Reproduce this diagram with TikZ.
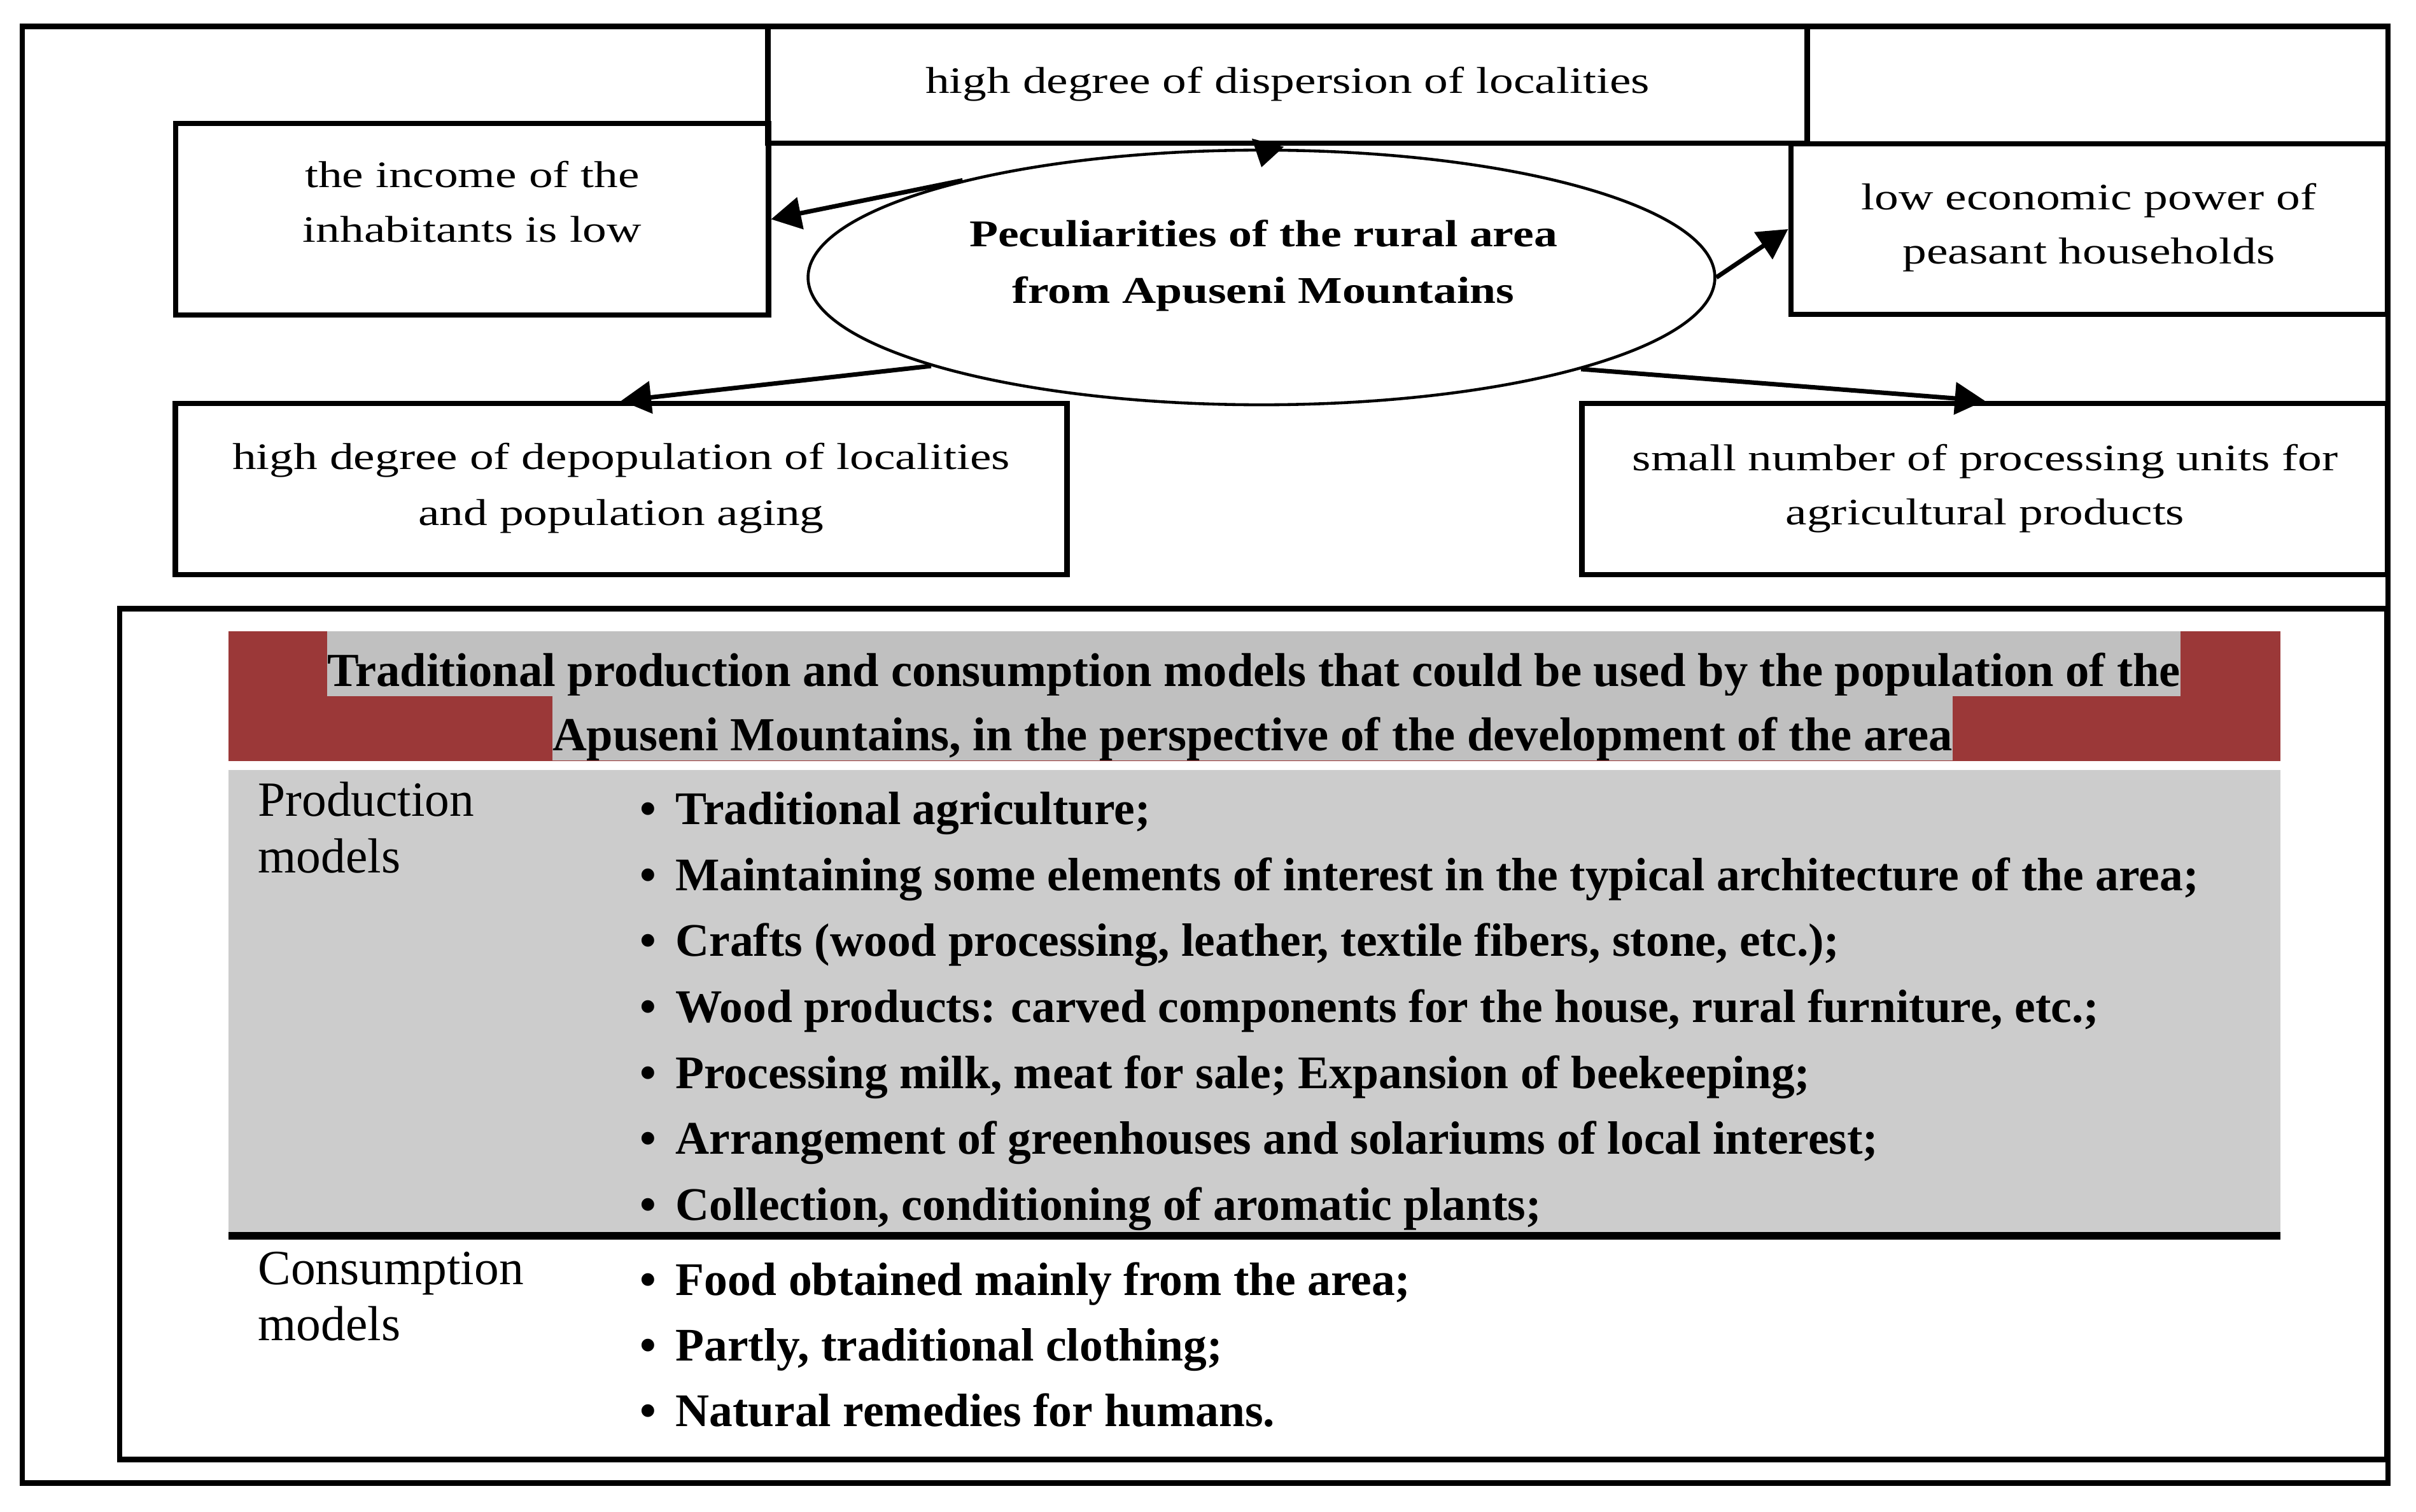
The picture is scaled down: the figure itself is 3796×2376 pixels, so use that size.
\documentclass[tikz,border=0pt]{standalone}
\usepackage{fontspec}
\setmainfont{Liberation Serif}
\newfontfamily\topfont{Liberation Serif}[FakeStretch=1.285]
\newfontfamily\ovalfont{Liberation Serif}[FakeStretch=1.24]
\usetikzlibrary{arrows.meta,shapes.geometric}
\definecolor{hdrred}{RGB}{155,56,56}
\definecolor{hlgray}{RGB}{192,192,192}
\definecolor{bodygray}{RGB}{204,204,204}
\begin{document}
\begin{tikzpicture}[x=0.01cm,y=-0.01cm,
  box/.style={draw, line width=2.4pt, rectangle, inner sep=0pt},
  oval/.style={draw, line width=1.3pt, ellipse, inner sep=0pt, minimum width=14.24cm, minimum height=4cm},
  toptxt/.style={anchor=base, inner sep=0pt, font=\topfont\fontsize{16.7}{24}\selectfont},
  ovaltxt/.style={anchor=base, inner sep=0pt, font=\ovalfont\bfseries\fontsize{16.9}{24}\selectfont},
  arr/.style={line width=2pt, -{Triangle[length=0.47cm,width=0.5cm]}},
  tbltxt/.style={anchor=base west, inner sep=0pt, font=\fontsize{22}{24}\selectfont},
  bultxt/.style={anchor=base west, inner sep=0pt, font=\bfseries\fontsize{20.9}{24}\selectfont},
  hdrtxt/.style={anchor=base, inner xsep=0pt, inner ysep=0pt, fill=hlgray, text height=0.86cm, text depth=0.16cm, font=\bfseries\fontsize{21.2}{24}\selectfont}
]
\useasboundingbox (0,0) rectangle (3796,2376);
\fill[white] (0,0) rectangle (3796,2376);

% table backgrounds
\fill[hdrred] (359,992) rectangle (3583,1196);
\fill[bodygray] (359,1210) rectangle (3583,1936);
\fill[black] (359,1936) rectangle (3583,1948);

% frames
\node[box, minimum width=37.15cm, minimum height=22.88cm] (outer) at (1893.5,1186) {};
\node[box, minimum width=35.60cm, minimum height=13.36cm] (table) at (1969,1625) {};
\node[box, minimum width=16.32cm, minimum height=1.83cm] (disp) at (2023,133.5) {};
\node[box, minimum width=9.31cm, minimum height=3.01cm] (inc) at (741.5,344.5) {};
\node[box, minimum width=9.37cm, minimum height=2.68cm] (lowecon) at (3282.5,360) {};
\node[box, minimum width=14.00cm, minimum height=2.69cm] (depop) at (976,768.5) {};
\node[box, minimum width=12.65cm, minimum height=2.69cm] (small) at (3118.5,768.5) {};
\node[oval] (E) at (1982,436) {};

% connectors
\coordinate (dtip) at (1982,263);
\draw[line width=2pt, -{Triangle[length=0.4cm,width=0.5cm]}] ([xshift=-0.305cm,yshift=0.07cm]disp.south) -- (dtip);
\draw[arr] (E.162.4) -- (inc.east);
\draw[arr] (E.east) -- (lowecon.west);
\draw[arr] (E.195.4) -- (depop.north);
\draw[arr] (E.344.6) -- (small.north);

% top texts
\node[toptxt] (t0) at (2023,147) {high degree of dispersion of localities};
\node[toptxt] (t1a) at (742,295) {the income of the};
\node[toptxt] (t1b) at (742,381) {inhabitants is low};
\node[ovaltxt] (ea) at (1985,388) {Peculiarities of the rural area};
\node[ovaltxt] (eb) at (1985,477) {from Apuseni Mountains};
\node[toptxt] (t2a) at (3282,330) {low economic power of};
\node[toptxt] (t2b) at (3282,415) {peasant households};
\node[toptxt] (t3a) at (976,738) {high degree of depopulation of localities};
\node[toptxt] (t3b) at (976,825) {and population aging};
\node[toptxt] (t4a) at (3119,739) {small number of processing units for};
\node[toptxt] (t4b) at (3119,824) {agricultural products};

% header
\node[hdrtxt] (h1) at (1970,1078) {Traditional production and consumption models that could be used by the population of the};
\node[hdrtxt] (h2) at (1968,1179) {Apuseni Mountains, in the perspective of the development of the area};

% labels
\node[tbltxt] (plab1) at (405,1282) {Production};
\node[tbltxt] (plab2) at (405,1371) {models};
\node[tbltxt] (clab1) at (405,2018) {Consumption};
\node[tbltxt] (clab2) at (405,2106) {models};

% bullets
\node[bultxt] (b1) at (1005,1295) {\textbullet\hspace{0.3cm}Traditional agriculture;};
\node[bultxt] (b2) at (1005,1399) {\textbullet\hspace{0.3cm}Maintaining some elements of interest in the typical architecture of the area;};
\node[bultxt] (b3) at (1005,1502) {\textbullet\hspace{0.3cm}Crafts (wood processing, leather, textile fibers, stone, etc.);};
\node[bultxt] (b4) at (1005,1606) {\textbullet\hspace{0.3cm}Wood products: carved components for the house, rural furniture, etc.;};
\node[bultxt] (b5) at (1005,1710) {\textbullet\hspace{0.3cm}Processing milk, meat for sale; Expansion of beekeeping;};
\node[bultxt] (b6) at (1005,1813) {\textbullet\hspace{0.3cm}Arrangement of greenhouses and solariums of local interest;};
\node[bultxt] (b7) at (1005,1917) {\textbullet\hspace{0.3cm}Collection, conditioning of aromatic plants;};
\node[bultxt] (c1) at (1005,2035) {\textbullet\hspace{0.3cm}Food obtained mainly from the area;};
\node[bultxt] (c2) at (1005,2138) {\textbullet\hspace{0.3cm}Partly, traditional clothing;};
\node[bultxt] (c3) at (1005,2241) {\textbullet\hspace{0.3cm}Natural remedies for humans.};
\end{tikzpicture}
\end{document}
